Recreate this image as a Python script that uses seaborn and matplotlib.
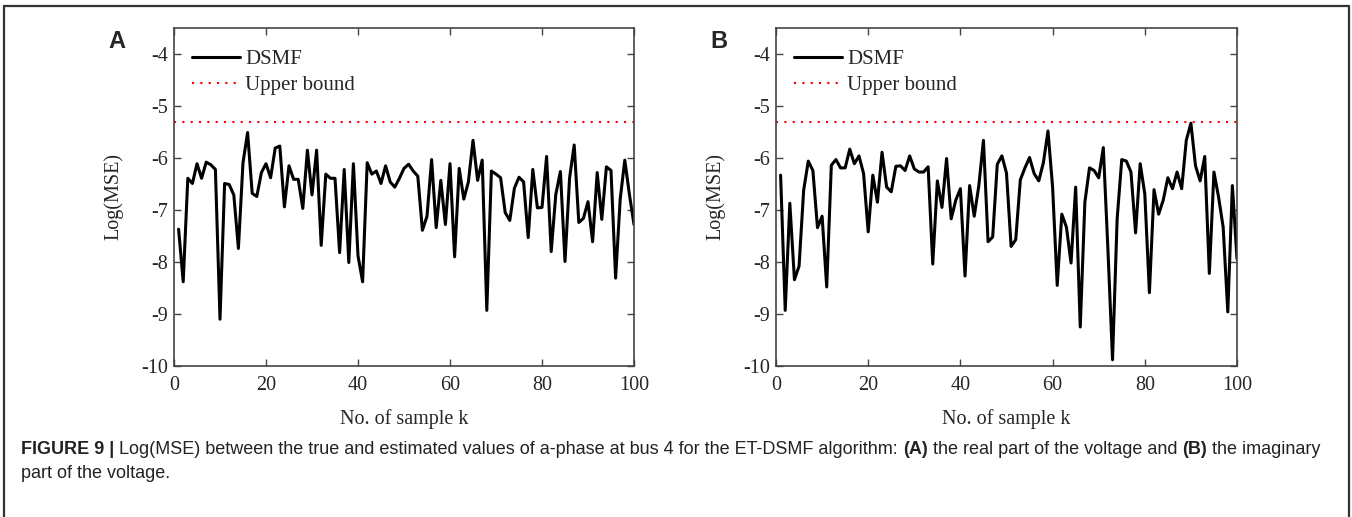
import numpy as np
import pandas as pd
import matplotlib
matplotlib.use("Agg")
import matplotlib.pyplot as plt
import seaborn as sns

# ---------------- data ----------------
sample_k = list(range(1, 101))

dsmf_real = [
    -7.37, -8.38, -6.39, -6.49, -6.11, -6.39, -6.08, -6.13, -6.22, -9.10,
    -6.49, -6.51, -6.71, -7.74, -6.09, -5.51, -6.68, -6.74, -6.28, -6.11,
    -6.38, -5.81, -5.77, -6.94, -6.15, -6.41, -6.41, -6.97, -5.85, -6.71,
    -5.85, -7.68, -6.31, -6.39, -6.39, -7.82, -6.22, -8.01, -6.11, -7.88,
    -8.38, -6.09, -6.31, -6.25, -6.49, -6.15, -6.46, -6.56, -6.39, -6.20,
    -6.12, -6.25, -6.35, -7.39, -7.12, -6.03, -7.34, -6.43, -7.28, -6.11,
    -7.90, -6.20, -6.79, -6.46, -5.66, -6.43, -6.04, -8.93, -6.25, -6.31,
    -6.38, -7.05, -7.20, -6.58, -6.37, -6.46, -7.53, -6.22, -6.96, -6.95,
    -5.97, -7.80, -6.70, -6.26, -7.99, -6.38, -5.75, -7.24, -7.16, -6.84,
    -7.61, -6.28, -7.18, -6.17, -6.24, -8.31, -6.79, -6.04, -6.70, -7.28,
]

dsmf_imag = [
    -6.33, -8.93, -6.87, -8.34, -8.08, -6.62, -6.06, -6.24, -7.34, -7.12,
    -8.48, -6.14, -6.03, -6.19, -6.19, -5.83, -6.11, -5.96, -6.30, -7.42,
    -6.33, -6.85, -5.89, -6.56, -6.65, -6.16, -6.15, -6.24, -5.96, -6.21,
    -6.27, -6.27, -6.17, -8.04, -6.44, -6.95, -6.01, -7.17, -6.81, -6.59,
    -8.27, -6.53, -7.12, -6.53, -5.66, -7.61, -7.52, -6.12, -5.96, -6.29,
    -7.70, -7.57, -6.42, -6.19, -5.99, -6.30, -6.44, -6.09, -5.48, -6.56,
    -8.45, -7.08, -7.33, -8.02, -6.56, -9.25, -6.85, -6.19, -6.24, -6.38,
    -5.80, -7.76, -9.88, -7.17, -6.03, -6.06, -6.27, -7.44, -6.11, -6.69,
    -8.59, -6.61, -7.08, -6.81, -6.38, -6.59, -6.27, -6.59, -5.66, -5.33,
    -6.15, -6.44, -5.97, -8.22, -6.27, -6.75, -7.33, -8.96, -6.53, -7.94,
]

upper_bound = -5.3

x_ticks = [0, 20, 40, 60, 80, 100]
y_ticks = [-10, -9, -8, -7, -6, -5, -4]
panel_labels = ["A", "B"]
series_label = "DSMF"
bound_label = "Upper bound"
x_label = "No. of sample k"
y_label = "Log(MSE)"

caption_line1 = [
    ("FIGURE 9 | ", "bold"),
    ("Log(MSE) between the true and estimated values of a-phase at bus 4 for the ET-DSMF algorithm: ", "normal"),
    ("(A)", "bold"),
    (" the real part of the voltage and ", "normal"),
    ("(B)", "bold"),
    (" the imaginary", "normal"),
]
caption_line2 = [("part of the voltage.", "normal")]

# ---------------- style ----------------
sns.set_theme(style="white")
plt.rcParams["font.family"] = ["Liberation Serif", "DejaVu Serif"]
plt.rcParams["axes.unicode_minus"] = False

W, H = 1352, 517
fig = plt.figure(figsize=(W / 100, H / 100), dpi=100)
fig.patch.set_facecolor("white")

# outer frame (left, top, right)
frame_color = "#333333"
fig.add_artist(plt.Line2D([4 / W, 4 / W], [0, 1 - 6 / H], color=frame_color, lw=1.6, transform=fig.transFigure))
fig.add_artist(plt.Line2D([4 / W, 1349 / W], [1 - 6 / H, 1 - 6 / H], color=frame_color, lw=1.6, transform=fig.transFigure))
fig.add_artist(plt.Line2D([1349 / W, 1349 / W], [0, 1 - 6 / H], color=frame_color, lw=1.6, transform=fig.transFigure))

axes_px = [(174, 634), (776, 1237)]
top_px, bot_px = 28, 366
datasets = [dsmf_real, dsmf_imag]

FS = 14.5
LEG_FS = 15
for i, ((l, r), vals) in enumerate(zip(axes_px, datasets)):
    ax = fig.add_axes([l / W, 1 - bot_px / H, (r - l) / W, (bot_px - top_px) / H])
    df = pd.DataFrame({"k": sample_k, "v": vals})
    sns.lineplot(data=df, x="k", y="v", ax=ax, color="black", lw=2.2, label=series_label)
    ax.axhline(upper_bound, color="red", lw=1.5, linestyle=(0, (1.0, 3.0)), label=bound_label)
    ax.set_xlim(0, 100)
    ax.set_ylim(-10, -3.5)
    ax.set_xticks(x_ticks)
    ax.set_yticks(y_ticks)
    ax.set_xticklabels([str(t) for t in x_ticks], fontsize=FS)
    ax.set_yticklabels([str(t) for t in y_ticks], fontsize=FS)
    ax.tick_params(axis="both", direction="in", length=5, width=1, top=True, right=True,
                   bottom=True, left=True, color="#444444")
    ax.tick_params(axis="x", pad=7)
    ax.tick_params(axis="y", pad=4)
    for s in ax.spines.values():
        s.set_color("#444444")
        s.set_linewidth(1.2)
    ax.set_xlabel(x_label, fontsize=FS, labelpad=10)
    ax.set_ylabel(y_label, fontsize=FS, labelpad=13)
    ax.legend(loc="upper left", frameon=False, fontsize=LEG_FS,
              handlelength=2.3, handletextpad=0.25, labelspacing=0.3,
              borderaxespad=0.0, borderpad=0.0,
              bbox_to_anchor=(18 / (r - l), 1 - 21.5 / (bot_px - top_px)))
    ax.grid(False)
    fig.text((l - 57) / W, 1 - 41 / H, panel_labels[i], fontsize=17, fontweight="bold",
             family=["Liberation Sans", "DejaVu Sans"], ha="center", va="center")

# caption with mixed weights
fig.canvas.draw()
renderer = fig.canvas.get_renderer()


def draw_rich(parts, x0_px, y_px, size):
    x = x0_px
    for txt, wt in parts:
        t = fig.text(x / W, 1 - y_px / H, txt, fontsize=size, fontweight=wt,
                     family=["Liberation Sans", "DejaVu Sans"], ha="left", va="center",
                     color="#222222")
        bb = t.get_window_extent(renderer=renderer)
        x += bb.width


cap_fs = 12.95
draw_rich(caption_line1, 21, 450, cap_fs)
draw_rich(caption_line2, 21, 473, cap_fs)

fig.savefig("out.png", dpi=100, facecolor="white")
